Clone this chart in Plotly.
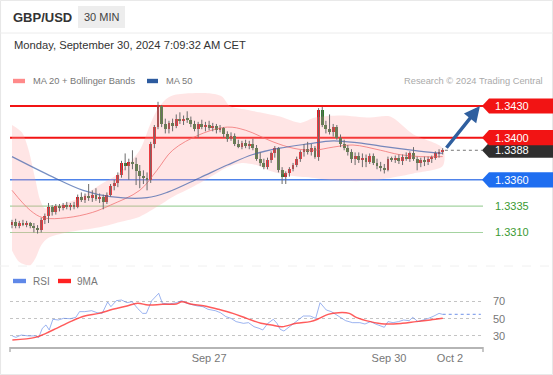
import plotly.graph_objects as go

W, H = 553, 375

# ---------------- data ----------------
opens = [1.3317,1.3320,1.3316,1.3319,1.3318,1.3319,1.3316,1.3314,1.3312,1.3322,
         1.3326,1.3334,1.3329,1.3335,1.3333,1.3336,1.3334,1.3336,1.3334,1.3344,
         1.3341,1.3345,1.3343,1.3346,1.3342,1.3344,1.3339,1.3346,1.3354,1.3357,
         1.3365,1.3376,1.3373,1.3377,1.3375,1.3368,1.3364,1.3362,1.3360,1.3394,
         1.3410,1.3430,1.3413,1.3408,1.3414,1.3411,1.3418,1.3416,1.3418,1.3417,
         1.3413,1.3408,1.3413,1.3410,1.3412,1.3409,1.3411,1.3407,1.3409,1.3403,
         1.3399,1.3402,1.3394,1.3391,1.3395,1.3392,1.3394,1.3390,1.3380,1.3376,
         1.3372,1.3379,1.3385,1.3390,1.3369,1.3363,1.3366,1.3370,1.3374,1.3380,
         1.3386,1.3389,1.3386,1.3390,1.3382,1.3426,1.3412,1.3408,1.3405,1.3410,
         1.3400,1.3394,1.3390,1.3386,1.3380,1.3383,1.3379,1.3381,1.3377,1.3383,
         1.3376,1.3373,1.3371,1.3369,1.3380,1.3379,1.3381,1.3378,1.3382,1.3380,
         1.3385,1.3380,1.3376,1.3379,1.3377,1.3380,1.3381,1.3385,1.3386]
highs = [1.3322,1.3323,1.3321,1.3322,1.3321,1.3320,1.3319,1.3317,1.3324,1.3328,
         1.3338,1.3336,1.3337,1.3337,1.3338,1.3339,1.3338,1.3339,1.3346,1.3348,
         1.3347,1.3356,1.3350,1.3352,1.3347,1.3346,1.3348,1.3356,1.3360,1.3367,
         1.3378,1.3385,1.3380,1.3388,1.3381,1.3374,1.3369,1.3367,1.3396,1.3412,
         1.3434,1.3431,1.3418,1.3416,1.3418,1.3422,1.3424,1.3421,1.3425,1.3420,
         1.3416,1.3415,1.3417,1.3415,1.3416,1.3414,1.3413,1.3412,1.3410,1.3406,
         1.3405,1.3404,1.3398,1.3397,1.3398,1.3397,1.3399,1.3393,1.3386,1.3380,
         1.3381,1.3387,1.3392,1.3391,1.3372,1.3368,1.3372,1.3376,1.3382,1.3388,
         1.3394,1.3396,1.3394,1.3392,1.3428,1.3429,1.3416,1.3422,1.3413,1.3412,
         1.3403,1.3398,1.3393,1.3389,1.3386,1.3386,1.3385,1.3384,1.3385,1.3385,
         1.3380,1.3377,1.3375,1.3382,1.3382,1.3383,1.3384,1.3384,1.3386,1.3387,
         1.3391,1.3382,1.3381,1.3382,1.3382,1.3383,1.3387,1.3389,1.3390]
lows = [1.3314,1.3314,1.3314,1.3316,1.3315,1.3314,1.3310,1.3309,1.3310,1.3318,
        1.3319,1.3326,1.3327,1.3330,1.3331,1.3332,1.3331,1.3332,1.3333,1.3339,
        1.3338,1.3340,1.3339,1.3340,1.3338,1.3332,1.3337,1.3344,1.3350,1.3353,
        1.3362,1.3369,1.3360,1.3370,1.3355,1.3352,1.3356,1.3350,1.3357,1.3390,
        1.3408,1.3410,1.3404,1.3404,1.3406,1.3409,1.3413,1.3412,1.3414,1.3410,
        1.3406,1.3400,1.3408,1.3406,1.3407,1.3406,1.3404,1.3405,1.3400,1.3396,
        1.3397,1.3392,1.3390,1.3389,1.3390,1.3389,1.3388,1.3378,1.3373,1.3370,
        1.3370,1.3376,1.3381,1.3367,1.3356,1.3356,1.3363,1.3368,1.3372,1.3377,
        1.3382,1.3384,1.3383,1.3380,1.3378,1.3410,1.3404,1.3403,1.3401,1.3398,
        1.3391,1.3388,1.3383,1.3376,1.3374,1.3376,1.3372,1.3372,1.3375,1.3374,
        1.3370,1.3368,1.3366,1.3368,1.3377,1.3376,1.3375,1.3374,1.3378,1.3377,
        1.3378,1.3369,1.3372,1.3373,1.3374,1.3376,1.3379,1.3381,1.3384]
closes = [1.3320,1.3316,1.3319,1.3318,1.3319,1.3316,1.3314,1.3312,1.3322,1.3326,
          1.3334,1.3329,1.3335,1.3333,1.3336,1.3334,1.3336,1.3334,1.3344,1.3341,
          1.3345,1.3343,1.3346,1.3342,1.3344,1.3339,1.3346,1.3354,1.3357,1.3365,
          1.3376,1.3373,1.3377,1.3375,1.3368,1.3364,1.3362,1.3360,1.3394,1.3410,
          1.3430,1.3413,1.3408,1.3414,1.3411,1.3418,1.3416,1.3418,1.3417,1.3413,
          1.3408,1.3413,1.3410,1.3412,1.3409,1.3411,1.3407,1.3409,1.3403,1.3399,
          1.3402,1.3394,1.3391,1.3395,1.3392,1.3394,1.3390,1.3380,1.3376,1.3372,
          1.3379,1.3385,1.3390,1.3369,1.3363,1.3366,1.3370,1.3374,1.3380,1.3386,
          1.3389,1.3386,1.3390,1.3382,1.3426,1.3412,1.3408,1.3405,1.3410,1.3400,
          1.3394,1.3390,1.3386,1.3380,1.3383,1.3379,1.3381,1.3377,1.3383,1.3376,
          1.3373,1.3371,1.3369,1.3380,1.3379,1.3381,1.3378,1.3382,1.3380,1.3385,
          1.3380,1.3376,1.3379,1.3377,1.3380,1.3381,1.3385,1.3386,1.3388]

ma20_x = [0, 5, 8.5, 15, 22, 27, 35, 39.7, 44, 51.5, 59, 64, 71.5, 77, 82.5, 88, 93.4, 101, 106, 112, 118]
ma20_y = [1.3350, 1.3331, 1.3324, 1.3324, 1.3329, 1.3336, 1.3350, 1.3369, 1.3388, 1.3403, 1.3410,
          1.3407, 1.3396, 1.3390, 1.3388, 1.3391, 1.3393, 1.3388, 1.3384, 1.3382, 1.3382]

ma50_x = [0, 11, 19.5, 27, 37, 42.5, 51.5, 59, 66, 73.4, 81, 88, 95, 101, 110, 118]
ma50_y = [1.3382, 1.3363, 1.3350, 1.3344, 1.3343, 1.3348, 1.3362, 1.3374, 1.3384, 1.3390,
          1.3394, 1.3397, 1.3395, 1.3392, 1.3388, 1.3385]

bb_up_x = [0, 2.7, 4.4, 6.3, 7.7, 9, 13, 18.6, 24, 29.6, 35, 37.8, 39.7, 42, 44, 48.8, 54, 57.5,
           59.7, 65, 73.4, 79, 83, 90, 98, 103.6, 110, 118]
bb_up_y = [1.3412, 1.3405, 1.3390, 1.3362, 1.3341, 1.3333, 1.3336, 1.3343, 1.3355, 1.3367, 1.3388,
           1.3412, 1.3426, 1.3436, 1.3440, 1.3442, 1.3442, 1.3439, 1.3430, 1.3426, 1.3420, 1.3414,
           1.3419, 1.3421, 1.3419, 1.3420, 1.3403, 1.3390]
bb_lo_x = [0, 2, 5, 6.5, 8, 10, 15, 24, 29.6, 35, 40.5, 44.7, 48.8, 54, 59, 63, 67, 71, 76, 82,
           90, 98, 104, 110, 118]
bb_lo_y = [1.3293, 1.3282, 1.3279, 1.3286, 1.3298, 1.3305, 1.3310, 1.3315, 1.3320, 1.3325, 1.3336,
           1.3345, 1.3352, 1.3362, 1.3372, 1.3376, 1.3374, 1.3368, 1.3364, 1.3362, 1.3359, 1.3359,
           1.3362, 1.3366, 1.3373]

rsi_x = [0.1,1.1,2.5,4.4,6.4,7.3,8.3,9.3,10.2,11.2,12.7,14.1,16,17.5,18.5,19.9,21.8,23.3,24.7,26.2,
         27.1,28.6,30,31.5,32.9,34.4,35.8,36.8,38.3,40.2,41.2,43.1,45,46.5,47.9,49.4,50.8,52.3,53.7,55.7,
         57.1,58.6,60,61.4,63.4,64.8,66.3,67.7,68.7,70.1,71.6,72.6,73.5,74.5,76,77.9,79.8,81.7,83.2,84.4,
         86.1,87.5,89.5,91.4,93.3,95.3,96.7,98.2,99.6,101.1,102,103,104.4,105.9,107.3,108.8,109.8,111.2,
         112.7,114.1,115.6,117,118]
rsi_y = [29.9,28.3,31,30,30,28,38.8,42.7,36.9,49.3,48.5,50.4,50,51.6,58.2,58.2,59.3,57,56.2,69.4,
         64,71,71.7,68.6,69.8,62,56.2,56.2,71,79.5,67.9,67.1,68.6,71,67.9,65.9,64.8,64,60.9,59.3,
         57,52.4,50.4,46.6,44.6,45.4,40.7,38.8,36.9,44.6,49.3,44.6,37.6,35.7,40.7,47.7,53.1,53.1,50.4,68.6,
         60.1,58.2,52.4,47.7,45.4,45.4,43.8,46.6,43.8,41.5,40,46.6,45.4,46.6,48.5,47.7,51.6,46.6,48.5,50.4,
         53.1,56.2,55]
rsi_ma_x = [0.1,6.4,9.3,12.2,16,19.9,23.8,27.6,31.5,34.4,37.3,41.2,45,46.5,48.9,52.8,56.6,60.5,64.3,68.2,
            71.1,74,77.9,81.7,83.7,86.6,89.5,92.4,94.3,98.2,102,106.9,110.7,114.6,118]
rsi_ma_y = [25.2,28.3,33,38.8,46.6,53.1,56.2,60.9,64.8,67.9,65.9,66.7,67.1,69.8,67.1,64.8,60.9,56.2,50.4,44.6,
            42.7,40.7,44.6,46.6,49.3,55,57,56.2,51.6,46.6,43.8,44.6,46.6,48.5,50.4]

resistance = [1.3430, 1.3400]
support_strong = [1.3360]
support_weak = [1.3335, 1.3310]
last_price = 1.3388
rsi_levels = [30, 50, 70]
date_ticks = [54, 103.3, 120]
date_labels = ["Sep 27", "Sep 30", "Oct 2"]

# ---------------- styling / geometry ----------------
FONT = "Liberation Sans, Arial, sans-serif"
UP, DOWN, WICK = "#e5161d", "#2e7b2a", "#6b6b6b"
X_RANGE = [-0.548, 129.04]
Y_RANGE = [1.32763, 1.34471]
Y2_RANGE = [17.1, 100.8]
def px(x): return x / W
def py(y): return 1 - y / H

candle_x = list(range(len(closes)))
last_i = candle_x[-1]

fig = go.Figure()

# Bollinger band polygon
fig.add_trace(go.Scatter(x=bb_up_x + bb_lo_x[::-1], y=bb_up_y + bb_lo_y[::-1],
                         fill="toself", fillcolor="rgba(255,160,160,0.28)",
                         line=dict(width=0, shape="spline", smoothing=0.8), mode="lines",
                         hoverinfo="skip", xaxis="x", yaxis="y"))
fig.add_trace(go.Scatter(x=ma20_x, y=ma20_y, mode="lines",
                         line=dict(color="rgba(240,110,110,0.75)", width=1, shape="spline"),
                         xaxis="x", yaxis="y"))
fig.add_trace(go.Scatter(x=ma50_x, y=ma50_y, mode="lines",
                         line=dict(color="rgba(60,95,170,0.7)", width=1.2, shape="spline"),
                         xaxis="x", yaxis="y"))

# wicks
wx, wy = [], []
for i, h, l in zip(candle_x, highs, lows):
    wx += [i, i, None]
    wy += [l, h, None]
fig.add_trace(go.Scatter(x=wx, y=wy, mode="lines", line=dict(color=WICK, width=1),
                         xaxis="x", yaxis="y", hoverinfo="skip"))
# bodies
fig.add_trace(go.Bar(x=candle_x, y=[c - o for o, c in zip(opens, closes)], base=opens,
                     width=0.78, marker=dict(color=[UP if c >= o else DOWN for o, c in zip(opens, closes)],
                                             line=dict(width=0)),
                     xaxis="x", yaxis="y"))

# RSI
fig.add_trace(go.Scatter(x=rsi_x, y=rsi_y, mode="lines",
                         line=dict(color="rgba(90,130,230,0.6)", width=1), xaxis="x2", yaxis="y2"))
fig.add_trace(go.Scatter(x=rsi_ma_x, y=rsi_ma_y, mode="lines",
                         line=dict(color="rgba(255,50,50,0.8)", width=1.5, shape="spline"),
                         xaxis="x2", yaxis="y2"))

shapes = []
annotations = []

# border and separators
shapes.append(dict(type="rect", xref="paper", yref="paper", x0=0.001, x1=0.999, y0=0.001, y1=0.999,
                   line=dict(color="#e6e6e6", width=1)))
shapes.append(dict(type="line", xref="paper", yref="paper", x0=0, x1=1, y0=py(33), y1=py(33),
                   line=dict(color="#ececec", width=1)))
shapes.append(dict(type="line", xref="paper", yref="paper", x0=0, x1=1, y0=py(266), y1=py(266),
                   line=dict(color="#f0f0f0", width=1, dash="dash")))

# level lines
for lv in resistance:
    shapes.append(dict(type="line", xref="x", yref="y", x0=X_RANGE[0], x1=X_RANGE[1], y0=lv, y1=lv,
                       layer="below", line=dict(color="#f21414", width=2)))
for lv in support_strong:
    shapes.append(dict(type="line", xref="x", yref="y", x0=X_RANGE[0], x1=X_RANGE[1], y0=lv, y1=lv,
                       layer="below", line=dict(color="#4f83ea", width=1.5)))
for lv in support_weak:
    shapes.append(dict(type="line", xref="x", yref="y", x0=X_RANGE[0], x1=X_RANGE[1], y0=lv, y1=lv,
                       layer="below", line=dict(color="#a4d3a0", width=1.2)))
shapes.append(dict(type="line", xref="x", yref="y", x0=last_i + 0.6, x1=X_RANGE[1] - 0.3,
                   y0=last_price, y1=last_price, line=dict(color="#777", width=1, dash="dot")))

# right side price tags
HH = 0.00072
def tag(p, color):
    x_tip, x_b = px(482), px(489)
    path = (f"M {x_tip},{p} L {x_b},{p + HH} L 1,{p + HH} L 1,{p - HH} L {x_b},{p - HH} Z")
    shapes.append(dict(type="path", xref="paper", yref="y", path=path, fillcolor=color,
                       line=dict(width=0)))
    annotations.append(dict(xref="paper", yref="y", x=px(493), y=p, text=f"{p:.4f}", showarrow=False,
                            xanchor="left", yanchor="middle", font=dict(color="white", size=11, family=FONT)))

tag(last_price, "#2f2f2f")
tag(resistance[1], "#f21414")
tag(resistance[0], "#f21414")
tag(support_strong[0], "#1f6ef0")
for lv in support_weak:
    annotations.append(dict(xref="paper", yref="y", x=px(493), y=lv, text=f"{lv:.4f}", showarrow=False,
                            xanchor="left", yanchor="middle", font=dict(color="#3a9a33", size=11, family=FONT)))

# target arrow
annotations.append(dict(x=128.2, y=resistance[0], xref="x", yref="y",
                        ax=last_i + 0.7, ay=last_price + 0.0001, axref="x", ayref="y",
                        showarrow=True, arrowhead=2, arrowsize=0.9, arrowwidth=3.5,
                        arrowcolor="#2f5f9f", text=""))

# RSI labels and extension
for lv in rsi_levels:
    annotations.append(dict(xref="paper", yref="y2", x=px(491), y=lv, text=str(lv), showarrow=False,
                            xanchor="left", yanchor="middle", font=dict(color="#777", size=11, family=FONT)))
shapes.append(dict(type="line", xref="x2", yref="y2", x0=rsi_x[-1], x1=X_RANGE[1] - 0.6,
                   y0=rsi_y[-1], y1=rsi_y[-1], line=dict(color="rgba(90,130,230,0.7)", width=1.2, dash="dot")))
# axis end ticks
for xe in (10, 483):
    shapes.append(dict(type="line", xref="paper", yref="paper", x0=px(xe), x1=px(xe), y0=py(347), y1=py(352),
                       line=dict(color="#b5b5b5", width=1.5)))

# header
shapes.append(dict(type="rect", xref="paper", yref="paper", x0=px(78), x1=px(125), y0=py(28), y1=py(6),
                   fillcolor="#ededed", line=dict(width=0)))
annotations.append(dict(xref="paper", yref="paper", x=px(11), y=py(17.5), text="<b>GBP/USD</b>",
                        showarrow=False, xanchor="left", yanchor="middle",
                        font=dict(color="#333", size=13, family=FONT)))
annotations.append(dict(xref="paper", yref="paper", x=px(101.5), y=py(17.5), text="30 MIN",
                        showarrow=False, xanchor="center", yanchor="middle",
                        font=dict(color="#444", size=11, family=FONT)))
annotations.append(dict(xref="paper", yref="paper", x=px(12), y=py(45), text="Monday, September 30, 2024 7:09:32 AM CET",
                        showarrow=False, xanchor="left", yanchor="middle",
                        font=dict(color="#333", size=11.2, family=FONT)))

# legends
def swatch(x0, x1, y, color):
    shapes.append(dict(type="rect", xref="paper", yref="paper", x0=px(x0), x1=px(x1), y0=py(y + 2.2),
                       y1=py(y - 2.2), fillcolor=color, line=dict(width=0)))
def label(x, y, text, color="#777", anchor="left", size=9.3):
    annotations.append(dict(xref="paper", yref="paper", x=px(x), y=py(y), text=text, showarrow=False,
                            xanchor=anchor, yanchor="middle", font=dict(color=color, size=size, family=FONT)))

swatch(13, 25, 81, "#ff8a8a")
label(31, 81, "MA 20 + Bollinger Bands")
swatch(147, 158, 81, "#2d5b9f")
label(164, 81, "MA 50")
label(545, 81, "Research © 2024 Trading Central", color="#aaa", anchor="right")
swatch(13, 26, 281, "#5f88e8")
label(31, 281, "RSI", size=10)
swatch(58, 71, 281, "#ff2222")
label(75, 281, "9MA", size=10)

fig.update_layout(
    width=W, height=H, margin=dict(l=0, r=0, t=0, b=0),
    paper_bgcolor="white", plot_bgcolor="rgba(0,0,0,0)", showlegend=False,
    font=dict(family=FONT),
    bargap=0,
    xaxis=dict(domain=[px(10), px(483)], range=X_RANGE, visible=False, fixedrange=True),
    yaxis=dict(domain=[py(268), py(88)], range=Y_RANGE, visible=False, fixedrange=True),
    xaxis2=dict(domain=[px(10), px(483)], range=X_RANGE, anchor="y2", showline=True,
                linecolor="#b5b5b5", linewidth=1.5, tickvals=date_ticks, ticktext=date_labels,
                ticks="", showgrid=False, zeroline=False, tickfont=dict(size=11, color="#777")),
    yaxis2=dict(domain=[py(347), py(275)], range=Y2_RANGE, anchor="x2", tickvals=rsi_levels,
                showticklabels=False, showgrid=True, gridcolor="#c4c4c4", griddash="dot",
                gridwidth=1, zeroline=False, showline=False),
    shapes=shapes, annotations=annotations,
)

fig.write_html("out.html", config={"displayModeBar": False},
               post_script="document.body.style.margin='0';document.body.style.overflow='hidden';")
